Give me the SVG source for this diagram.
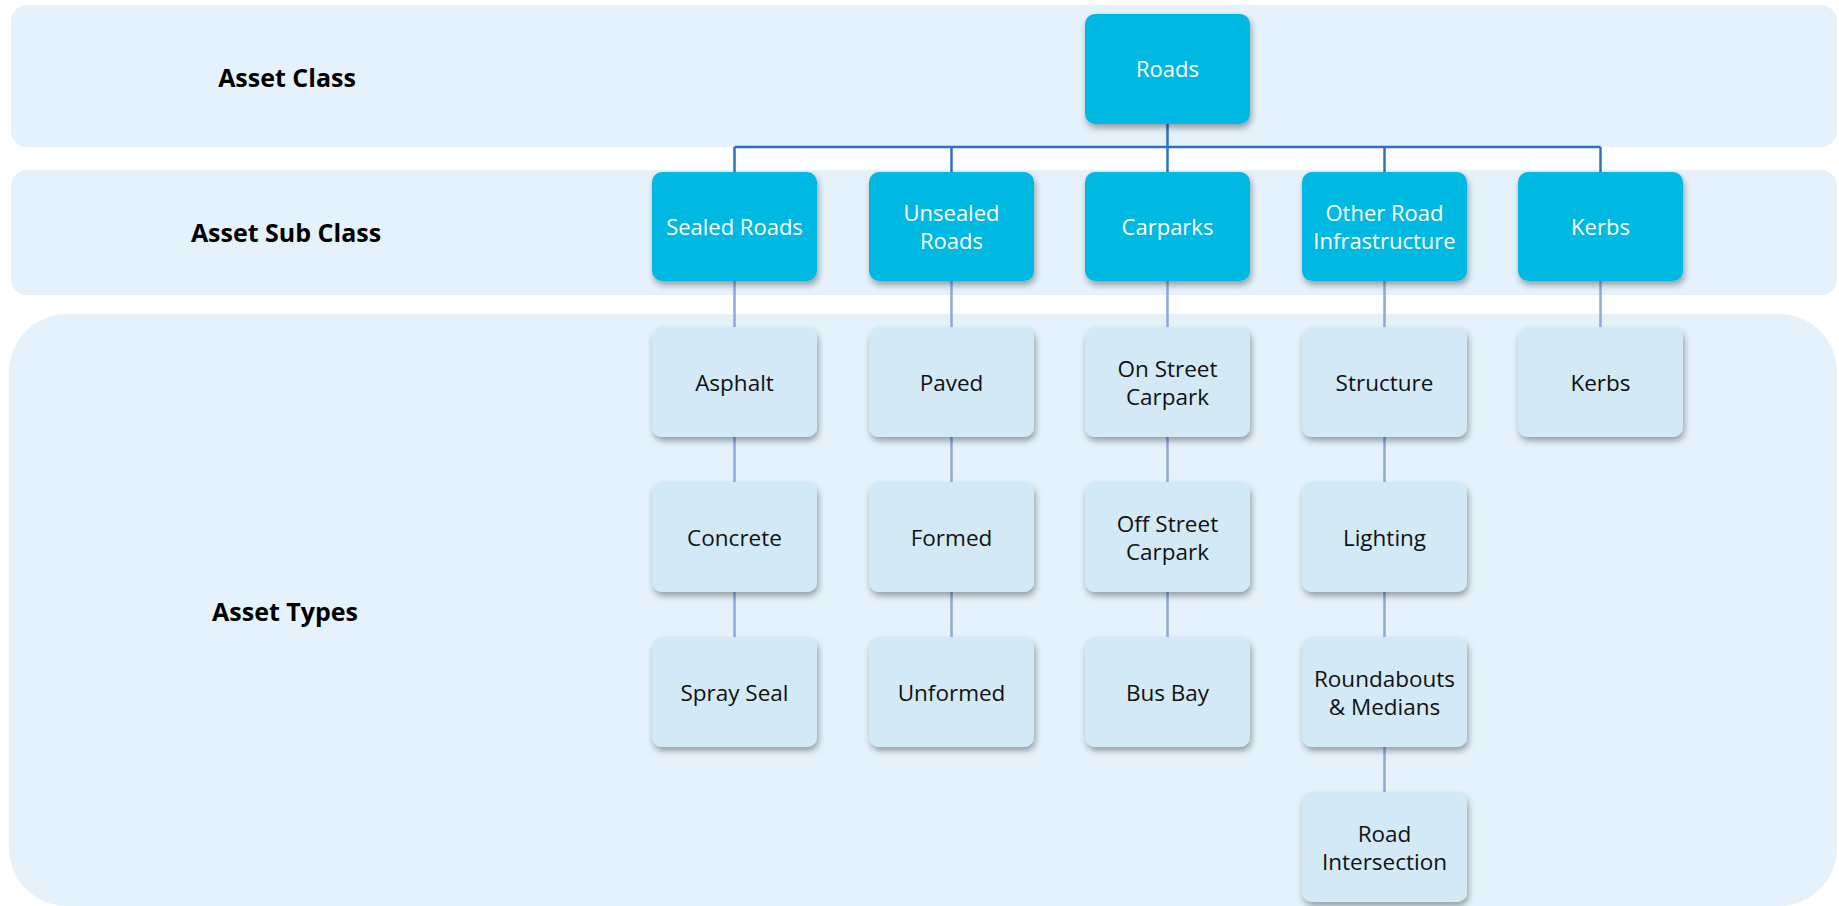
<svg xmlns="http://www.w3.org/2000/svg" width="1839" height="906" viewBox="0 0 1839 906">
<defs>
<filter id="sh" x="-20%" y="-20%" width="140%" height="150%">
<feDropShadow dx="1.5" dy="4" stdDeviation="3" flood-color="#000" flood-opacity="0.35"/>
</filter>
<style>
.band{fill:#E5F2FB}
.lbl{font-family:"Open Sans","Liberation Sans",sans-serif;font-weight:bold;font-size:25px;fill:#000;text-anchor:middle}
.sub rect{fill:#00B9E3;filter:url(#sh)}
.typ rect{fill:#D3E9F5;filter:url(#sh)}
.sub text{font-family:"Open Sans","Liberation Sans",sans-serif;font-size:22px;fill:#fff;text-anchor:middle}
.typ text{font-family:"Open Sans","Liberation Sans",sans-serif;font-size:22.5px;fill:#111;text-anchor:middle}
.bus{stroke:#2E72C8;stroke-width:2.5;fill:none}
.lnk{stroke:#8FA8DE;stroke-width:2.5;fill:none}
</style>
</defs>
<rect width="1839" height="906" fill="#fff"/>
<g id="bands">
<rect class="band" x="11" y="5" width="1826" height="142" rx="16"/>
<rect class="band" x="11" y="170" width="1826" height="125" rx="16"/>
<rect class="band" x="9" y="314" width="1828" height="592" rx="58"/>
</g>
<g id="labels">
<text class="lbl" x="287" y="87">Asset Class</text>
<text class="lbl" x="286" y="242">Asset Sub Class</text>
<text class="lbl" x="285" y="621">Asset Types</text>
</g>
<g id="connectors">
<path class="bus" d="M1167.5 124V147M734.5 147H1600.5M734.5 147V172M951.5 147V172M1167.5 147V172M1384.5 147V172M1600.5 147V172"/>
<path class="lnk" d="M734.5 281V327M734.5 437V482M734.5 592V637"/>
<path class="lnk" d="M951.5 281V327M951.5 437V482M951.5 592V637"/>
<path class="lnk" d="M1167.5 281V327M1167.5 437V482M1167.5 592V637"/>
<path class="lnk" d="M1384.5 281V327M1384.5 437V482M1384.5 592V637M1384.5 747V792"/>
<path class="lnk" d="M1600.5 281V327"/>
</g>
<g id="roads" class="sub"><rect x="1085" y="14" width="165" height="110" rx="10"/><text x="1167.5" y="77">Roads</text></g>
<g id="sealed-roads" class="sub"><rect x="652" y="172" width="165" height="109" rx="10"/><text x="734.5" y="235">Sealed Roads</text></g>
<g id="unsealed-roads" class="sub"><rect x="869" y="172" width="165" height="109" rx="10"/><text x="951.5" y="221">Unsealed</text><text x="951.5" y="249">Roads</text></g>
<g id="carparks" class="sub"><rect x="1085" y="172" width="165" height="109" rx="10"/><text x="1167.5" y="235">Carparks</text></g>
<g id="other-road-infrastructure" class="sub"><rect x="1302" y="172" width="165" height="109" rx="10"/><text x="1384.5" y="221">Other Road</text><text x="1384.5" y="249">Infrastructure</text></g>
<g id="kerbs-sub" class="sub"><rect x="1518" y="172" width="165" height="109" rx="10"/><text x="1600.5" y="235">Kerbs</text></g>
<g id="asphalt" class="typ"><rect x="652" y="327" width="165" height="110" rx="10"/><text x="734.5" y="391">Asphalt</text></g>
<g id="concrete" class="typ"><rect x="652" y="482" width="165" height="110" rx="10"/><text x="734.5" y="546">Concrete</text></g>
<g id="spray-seal" class="typ"><rect x="652" y="637" width="165" height="110" rx="10"/><text x="734.5" y="701">Spray Seal</text></g>
<g id="paved" class="typ"><rect x="869" y="327" width="165" height="110" rx="10"/><text x="951.5" y="391">Paved</text></g>
<g id="formed" class="typ"><rect x="869" y="482" width="165" height="110" rx="10"/><text x="951.5" y="546">Formed</text></g>
<g id="unformed" class="typ"><rect x="869" y="637" width="165" height="110" rx="10"/><text x="951.5" y="701">Unformed</text></g>
<g id="on-street-carpark" class="typ"><rect x="1085" y="327" width="165" height="110" rx="10"/><text x="1167.5" y="377">On Street</text><text x="1167.5" y="405">Carpark</text></g>
<g id="off-street-carpark" class="typ"><rect x="1085" y="482" width="165" height="110" rx="10"/><text x="1167.5" y="532">Off Street</text><text x="1167.5" y="560">Carpark</text></g>
<g id="bus-bay" class="typ"><rect x="1085" y="637" width="165" height="110" rx="10"/><text x="1167.5" y="701">Bus Bay</text></g>
<g id="structure" class="typ"><rect x="1302" y="327" width="165" height="110" rx="10"/><text x="1384.5" y="391">Structure</text></g>
<g id="lighting" class="typ"><rect x="1302" y="482" width="165" height="110" rx="10"/><text x="1384.5" y="546">Lighting</text></g>
<g id="roundabouts-medians" class="typ"><rect x="1302" y="637" width="165" height="110" rx="10"/><text x="1384.5" y="687">Roundabouts</text><text x="1384.5" y="715">&amp; Medians</text></g>
<g id="road-intersection" class="typ"><rect x="1302" y="792" width="165" height="110" rx="10"/><text x="1384.5" y="842">Road</text><text x="1384.5" y="870">Intersection</text></g>
<g id="kerbs-type" class="typ"><rect x="1518" y="327" width="165" height="110" rx="10"/><text x="1600.5" y="391">Kerbs</text></g>
</svg>
